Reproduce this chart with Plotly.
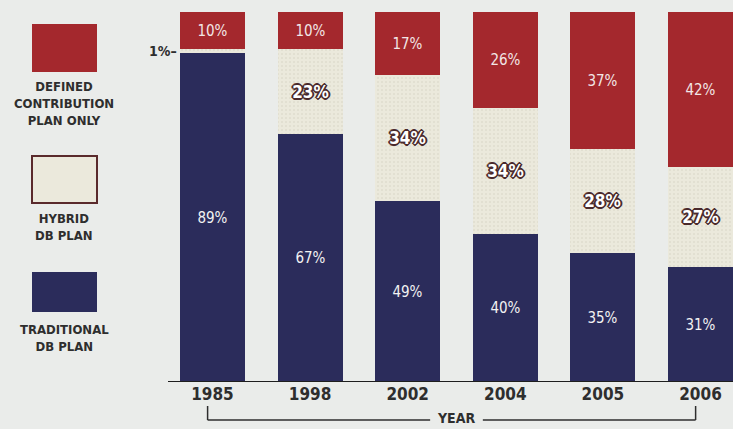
import plotly.graph_objects as go

years = ["1985", "1998", "2002", "2004", "2005", "2006"]
traditional = [89, 67, 49, 40, 35, 31]
hybrid = [1, 23, 34, 34, 28, 27]
defined = [10, 10, 17, 26, 37, 42]

W, H = 733, 429
T, B = 12, 47
PLOT_H = H - T - B

RED = "#a4282d"
NAVY = "#2b2c5b"
HYB_BG = "#ebe9dc"
HYB_FG = "#bdb8a8"
BG = "#eaecea"
TXT = "#2e2e2e"
FONT = "DejaVu Sans Condensed, Roboto, sans-serif"

def xp(px):
    return px / W

def yp(py):
    return (H - B - py) / PLOT_H

xs = list(range(len(years)))
fig = go.Figure()

fig.add_bar(
    x=xs, y=traditional, name="TRADITIONAL DB PLAN",
    marker=dict(color=NAVY, line=dict(width=0)),
    text=[f"{v}%" for v in traditional], textposition="inside",
    insidetextanchor="middle", textangle=0,
    textfont=dict(family=FONT, size=15, color="#f2f2f2"),
    width=0.666, hoverinfo="skip",
)
fig.add_bar(
    x=xs, y=hybrid, name="HYBRID DB PLAN",
    marker=dict(color=HYB_BG, line=dict(width=0),
                pattern=dict(shape=".", fgcolor=HYB_FG, bgcolor=HYB_BG, size=4, solidity=0.12)),
    text=[f"{v}%" if v >= 5 else "" for v in hybrid], textposition="inside",
    insidetextanchor="middle", textangle=0,
    textfont=dict(family=FONT, size=17, color="#ffffff", weight="bold",
                  shadow="-1px -1px 0 #4a2a2c, 1px -1px 0 #4a2a2c, -1px 1px 0 #4a2a2c, 1px 1px 0 #4a2a2c, 0 2px 0 #4a2a2c, 2px 0 0 #4a2a2c, -2px 0 0 #4a2a2c, 0 -2px 0 #4a2a2c"),
    width=0.666, hoverinfo="skip",
)
fig.add_bar(
    x=xs, y=defined, name="DEFINED CONTRIBUTION PLAN ONLY",
    marker=dict(color=RED, line=dict(width=0)),
    text=[f"{v}%" for v in defined], textposition="inside",
    insidetextanchor="middle", textangle=0,
    textfont=dict(family=FONT, size=15, color="#f2e6e6"),
    width=0.666, hoverinfo="skip",
)

# 1985 hybrid thin segment label
fig.add_annotation(
    x=-0.34, y=traditional[0] + hybrid[0] / 2, xref="x", yref="y",
    text="<b>1%–</b>", showarrow=False, xanchor="right", yanchor="middle",
    font=dict(family=FONT, size=14, color=TXT),
)

# axis baseline
fig.add_shape(type="line", xref="paper", yref="y", x0=xp(168), x1=1, y0=0, y1=0,
              line=dict(color="#1e1e1e", width=2))

# year bracket
bracket_y = yp(420)
top_y = yp(406)
fig.add_shape(type="line", xref="x", yref="paper", x0=-0.05, x1=-0.05, y0=top_y, y1=bracket_y,
              line=dict(color=TXT, width=1.5))
fig.add_shape(type="line", xref="x", yref="paper", x0=4.95, x1=4.95, y0=top_y, y1=bracket_y,
              line=dict(color=TXT, width=1.5))
fig.add_shape(type="line", xref="x", yref="paper", x0=-0.05, x1=2.23, y0=bracket_y, y1=bracket_y,
              line=dict(color=TXT, width=1.5))
fig.add_shape(type="line", xref="x", yref="paper", x0=2.77, x1=4.95, y0=bracket_y, y1=bracket_y,
              line=dict(color=TXT, width=1.5))
fig.add_annotation(x=2.5, y=yp(418), xref="x", yref="paper", text="<b>YEAR</b>",
                   showarrow=False, yanchor="middle", xanchor="center",
                   font=dict(family=FONT, size=14, color=TXT))

# legend boxes
fig.add_shape(type="rect", xref="paper", yref="paper", x0=xp(32), x1=xp(97), y0=yp(24), y1=yp(72),
              fillcolor=RED, line=dict(width=0), layer="above")
fig.add_shape(type="rect", xref="paper", yref="paper", x0=xp(32), x1=xp(97), y0=yp(156), y1=yp(203),
              fillcolor=HYB_BG, line=dict(width=2, color="#5a2a2c"), layer="above")
fig.add_shape(type="rect", xref="paper", yref="paper", x0=xp(32), x1=xp(97), y0=yp(272), y1=yp(312),
              fillcolor=NAVY, line=dict(width=0), layer="above")

legend_labels = [
    ("DEFINED<br>CONTRIBUTION<br>PLAN ONLY", 103),
    ("HYBRID<br>DB PLAN", 227),
    ("TRADITIONAL<br>DB PLAN", 338),
]
for txt, cy in legend_labels:
    fig.add_annotation(x=xp(64), y=yp(cy), xref="paper", yref="paper",
                       text=f"<b>{txt}</b>", showarrow=False, align="center",
                       xanchor="center", yanchor="middle",
                       font=dict(family=FONT, size=13, color=TXT))

fig.update_layout(
    barmode="stack",
    width=W, height=H,
    margin=dict(l=0, r=0, t=T, b=B, pad=0),
    paper_bgcolor=BG, plot_bgcolor=BG,
    showlegend=False,
    bargap=0,
    xaxis=dict(range=[-2.177, 5.333], tickvals=xs, ticktext=years,
               tickfont=dict(family=FONT, size=17, color=TXT, weight="bold"),
               showgrid=False, zeroline=False, showline=False, ticks="", ticklen=0),
    yaxis=dict(range=[0, 100], visible=False, showgrid=False, zeroline=False),
)

fig.write_html("out.html", config={"displayModeBar": False},
               post_script="document.body.style.margin='0';document.body.style.background='#eaecea';")
